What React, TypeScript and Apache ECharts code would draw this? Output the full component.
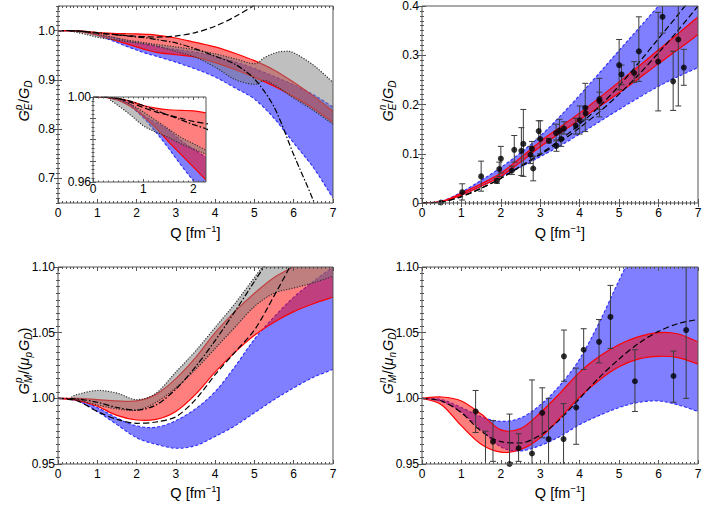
import React, { useEffect, useRef } from "react";
import * as echarts from "echarts";

const FONT = '"Liberation Sans", Arial, Helvetica, sans-serif';

// ---------------- Panel 1 : G_E^p / G_D (and inset) ----------------
const q1 = [0, 0.25, 0.5, 0.75, 1, 1.25, 1.5, 1.75, 2, 2.25, 2.5, 3, 3.5, 4, 4.5, 5, 5.5, 6, 6.5, 7];
const p1BlueLo = [1, 0.9998, 0.9985, 0.9955, 0.9903, 0.9835, 0.976, 0.968, 0.9605, 0.9535, 0.948, 0.936, 0.922, 0.906, 0.884, 0.861, 0.822, 0.772, 0.722, 0.66];
const p1BlueHi = [1, 0.9999, 0.999, 0.9965, 0.9915, 0.988, 0.9845, 0.9795, 0.9755, 0.9717, 0.968, 0.962, 0.956, 0.948, 0.937, 0.923, 0.907, 0.89, 0.87, 0.845];
const p1RedLo = [1, 0.9998, 0.9985, 0.9955, 0.991, 0.9855, 0.979, 0.973, 0.967, 0.961, 0.956, 0.951, 0.946, 0.935, 0.921, 0.905, 0.887, 0.866, 0.842, 0.814];
const p1RedHi = [1, 0.99995, 0.9993, 0.998, 0.996, 0.9948, 0.994, 0.9937, 0.9935, 0.9925, 0.991, 0.985, 0.976, 0.967, 0.954, 0.939, 0.92, 0.895, 0.867, 0.836];
const q1g = [0.35, 0.5, 0.75, 1, 1.25, 1.5, 1.75, 2, 2.25, 2.5, 3, 3.5, 4, 4.5, 5, 5.25, 5.5, 5.75, 6, 6.5, 7];
const p1GrayLo = [0.9985, 0.996, 0.9915, 0.9865, 0.9835, 0.981, 0.978, 0.9755, 0.973, 0.969, 0.958, 0.946, 0.926, 0.901, 0.891, 0.899, 0.89, 0.877, 0.863, 0.838, 0.81];
const p1GrayHi = [0.9995, 0.999, 0.9965, 0.993, 0.989, 0.985, 0.981, 0.978, 0.975, 0.972, 0.967, 0.961, 0.953, 0.943, 0.933, 0.945, 0.954, 0.958, 0.955, 0.93, 0.895];
const p1Dash = [1, 0.9999, 0.9993, 0.9975, 0.995, 0.993, 0.9915, 0.99, 0.9885, 0.9875, 0.987, 0.989, 0.996, 1.009, 1.028, 1.052, 1.085, 1.12, 1.16, 1.2];
const p1DashDot = [1, 0.9999, 0.9993, 0.998, 0.996, 0.9937, 0.9915, 0.9893, 0.987, 0.985, 0.982, 0.975, 0.963, 0.948, 0.932, 0.902, 0.845, 0.748, 0.655, 0.55];

// ---------------- Panel 2 : G_E^n / G_D ----------------
const q2 = [0, 0.5, 1, 1.5, 2, 2.5, 3, 3.5, 4, 4.5, 5, 5.5, 6, 6.5, 7];
const p2BlueLo = [0, 0.003, 0.016, 0.034, 0.053, 0.073, 0.094, 0.116, 0.14, 0.165, 0.19, 0.214, 0.237, 0.257, 0.275];
const p2BlueHi = [0, 0.004, 0.022, 0.046, 0.072, 0.102, 0.136, 0.176, 0.219, 0.264, 0.31, 0.355, 0.4, 0.445, 0.49];
const p2RedLo = [0, 0.003, 0.016, 0.034, 0.054, 0.083, 0.114, 0.142, 0.169, 0.196, 0.224, 0.253, 0.283, 0.312, 0.342];
const p2RedHi = [0, 0.0035, 0.02, 0.039, 0.061, 0.092, 0.125, 0.154, 0.183, 0.214, 0.246, 0.278, 0.311, 0.344, 0.378];
const p2DashA = [0, 0.002, 0.013, 0.03, 0.05, 0.075, 0.1, 0.128, 0.16, 0.196, 0.238, 0.285, 0.334, 0.383, 0.433];
const p2DashB = [0, 0.002, 0.013, 0.03, 0.05, 0.074, 0.098, 0.124, 0.153, 0.185, 0.221, 0.261, 0.305, 0.351, 0.4];
const p2PtQ = [0.48, 1.02, 1.5, 1.9, 1.96, 2.0, 2.28, 2.34, 2.52, 2.57, 2.75, 2.79, 2.82, 2.96, 3.0, 3.22, 3.4, 3.41, 3.49, 3.53, 3.6, 3.9, 4.0, 4.14, 4.15, 4.5, 4.5, 5.0, 5.06, 5.38, 5.5, 5.99, 6.1, 6.37, 6.5, 6.64];
const p2PtV = [0.001, 0.022, 0.054, 0.045, 0.069, 0.09, 0.066, 0.108, 0.106, 0.12, 0.098, 0.11, 0.07, 0.146, 0.13, 0.126, 0.142, 0.116, 0.147, 0.13, 0.151, 0.157, 0.168, 0.193, 0.182, 0.211, 0.207, 0.28, 0.261, 0.264, 0.308, 0.287, 0.378, 0.247, 0.332, 0.275];
const p2PtLo = [0.001, 0.006, 0.024, 0.04, 0.054, 0.061, 0.058, 0.083, 0.056, 0.054, 0.08, 0.095, 0.045, 0.13, 0.1, 0.122, 0.128, 0.105, 0.128, 0.115, 0.14, 0.14, 0.14, 0.145, 0.17, 0.175, 0.19, 0.23, 0.24, 0.245, 0.247, 0.187, 0.345, 0.188, 0.197, 0.239];
const p2PtHi = [0.001, 0.039, 0.085, 0.05, 0.083, 0.115, 0.075, 0.137, 0.153, 0.19, 0.115, 0.125, 0.095, 0.167, 0.167, 0.131, 0.16, 0.126, 0.17, 0.142, 0.165, 0.172, 0.197, 0.243, 0.195, 0.253, 0.225, 0.332, 0.28, 0.287, 0.378, 0.387, 0.41, 0.308, 0.41, 0.312];

// ---------------- Panel 3 : G_M^p / (mu_p G_D) ----------------
const q3 = [0, 0.5, 1, 1.5, 2, 2.5, 3, 3.5, 4, 4.5, 5, 5.5, 6, 6.5, 7];
const p3BlueLo = [1, 0.998, 0.99, 0.98, 0.97, 0.965, 0.962, 0.964, 0.971, 0.979, 0.989, 0.999, 1.008, 1.016, 1.022];
const p3BlueHi = [1, 0.999, 0.993, 0.985, 0.979, 0.978, 0.983, 0.992, 1.005, 1.024, 1.045, 1.062, 1.077, 1.089, 1.1];
const p3RedLo = [1, 0.9985, 0.994, 0.987, 0.9835, 0.984, 0.99, 1.003, 1.02, 1.035, 1.048, 1.058, 1.066, 1.072, 1.077];
const p3RedHi = [1, 1.0, 0.999, 0.998, 0.998, 1.003, 1.015, 1.031, 1.05, 1.066, 1.08, 1.092, 1.1, 1.106, 1.11];
const q3g = [0.35, 0.5, 1, 1.5, 2, 2.5, 3, 3.5, 4, 4.5, 5, 5.5, 6, 6.5, 7];
const p3GrayLo = [1.0, 0.999, 0.995, 0.992, 0.991, 0.997, 1.008, 1.022, 1.038, 1.054, 1.07, 1.08, 1.084, 1.088, 1.093];
const p3GrayHi = [1.001, 1.003, 1.006, 1.004, 0.999, 1.004, 1.02, 1.036, 1.054, 1.072, 1.092, 1.112, 1.13, 1.15, 1.17];
const p3Dash = [1, 0.998, 0.99, 0.984, 0.981, 0.982, 0.986, 0.999, 1.018, 1.035, 1.052, 1.078, 1.106, 1.14, 1.17];
const p3DashDot = [1, 0.9995, 0.997, 0.993, 0.991, 0.995, 1.007, 1.024, 1.044, 1.066, 1.089, 1.112, 1.135, 1.16, 1.18];

// ---------------- Panel 4 : G_M^n / (mu_n G_D) ----------------
const q4 = [0, 0.5, 1, 1.5, 2, 2.5, 3, 3.5, 4, 4.5, 5, 5.5, 6, 6.5, 7];
const p4BlueLo = [1, 0.9975, 0.9895, 0.976, 0.963, 0.96, 0.964, 0.971, 0.98, 0.987, 0.993, 0.997, 0.998, 0.995, 0.99];
const p4BlueHi = [1, 0.999, 0.993, 0.986, 0.9825, 0.985, 0.995, 1.01, 1.03, 1.058, 1.09, 1.12, 1.15, 1.175, 1.2];
const p4RedLo = [1, 0.995, 0.979, 0.965, 0.959, 0.961, 0.97, 0.985, 1.001, 1.014, 1.024, 1.03, 1.032, 1.031, 1.026];
const p4RedHi = [1, 1.001, 0.998, 0.988, 0.976, 0.977, 0.989, 1.004, 1.02, 1.032, 1.041, 1.047, 1.05, 1.049, 1.043];
const p4Dash = [1, 0.998, 0.989, 0.975, 0.967, 0.966, 0.972, 0.984, 1.0, 1.016, 1.03, 1.042, 1.051, 1.057, 1.06];
const p4PtQ = [1.36, 1.61, 1.8, 2.22, 2.45, 2.79, 3.05, 3.21, 3.59, 3.6, 3.91, 4.1, 4.49, 4.78, 5.4, 6.38, 6.7];
const p4PtV = [0.99, 0.945, 0.967, 0.95, 0.962, 0.958, 0.989, 0.969, 0.969, 1.032, 0.993, 1.037, 1.043, 1.062, 1.013, 1.017, 1.052];
const p4PtLo = [0.974, 0.92, 0.952, 0.912, 0.952, 0.9, 0.97, 0.93, 0.94, 1.013, 0.965, 1.022, 1.027, 1.038, 0.99, 0.997, 1.0];
const p4PtHi = [1.006, 0.975, 0.983, 0.988, 0.973, 1.014, 1.008, 1.0, 0.996, 1.052, 1.023, 1.053, 1.06, 1.086, 1.037, 1.036, 1.1];

// ---------------- Tick values ----------------
const qTicks = [0, 1, 2, 3, 4, 5, 6, 7];
const p1YTicks = [0.7, 0.8, 0.9, 1.0];
const p2YTicks = [0, 0.1, 0.2, 0.3, 0.4];
const p34YTicks = [0.95, 1.0, 1.05, 1.1];
const insetXTicks = [0, 1, 2];
const insetYTicks = [0.96, 0.97, 0.98, 0.99, 1.0];
const insetYLabels = [0.96, 1.0];

function steps(a: number, b: number, s: number) {
  const out: number[] = [];
  const n = Math.round((b - a) / s);
  for (let i = 0; i <= n; i++) out.push(Math.round((a + i * s) * 1e6) / 1e6);
  return out;
}

const GRIDS = [
  { left: 58, top: 6, width: 275, height: 197 },
  { left: 422, top: 6, width: 276, height: 197 },
  { left: 58, top: 267, width: 275, height: 197 },
  { left: 422, top: 267, width: 276, height: 197 },
  { left: 93, top: 97, width: 113, height: 85 },
];

const PANELS: any[] = [
  { x: [0, 7], y: [0.65, 1.05], xMaj: qTicks, xLab: qTicks, xMin: steps(0, 7, 0.1), yMaj: p1YTicks, yLab: p1YTicks, yMin: steps(0.65, 1.05, 0.01), yf: (v: number) => v.toFixed(1), xm: 4, ym: 3, tl: 4 },
  { x: [0, 7], y: [0, 0.4], xMaj: qTicks, xLab: qTicks, xMin: steps(0, 7, 0.1), yMaj: p2YTicks, yLab: p2YTicks, yMin: steps(0, 0.4, 0.01), yf: (v: number) => (v === 0 ? "0" : v.toFixed(1)), xm: 4, ym: 3, tl: 4 },
  { x: [0, 7], y: [0.95, 1.1], xMaj: qTicks, xLab: qTicks, xMin: steps(0, 7, 0.1), yMaj: p34YTicks, yLab: p34YTicks, yMin: steps(0.95, 1.1, 0.005), yf: (v: number) => v.toFixed(2), xm: 4, ym: 3, tl: 4 },
  { x: [0, 7], y: [0.95, 1.1], xMaj: qTicks, xLab: qTicks, xMin: steps(0, 7, 0.1), yMaj: p34YTicks, yLab: p34YTicks, yMin: steps(0.95, 1.1, 0.005), yf: (v: number) => v.toFixed(2), xm: 4, ym: 3, tl: 4 },
  { x: [0, 2.25], y: [0.96, 1.0], xMaj: insetXTicks, xLab: insetXTicks, xMin: steps(0, 2.2, 0.1), yMaj: insetYTicks, yLab: insetYLabels, yMin: steps(0.96, 1.0, 0.002), yf: (v: number) => v.toFixed(2), xm: 1, ym: 2, tl: 3 },
];

function ax(gridIndex: number, range: number[], position: string, ticks: number[], len: number, labels: number[] | null, fmt?: any, margin?: number) {
  return {
    type: "value",
    gridIndex,
    min: range[0],
    max: range[1],
    position,
    z: 6,
    silent: true,
    axisLine: { show: false },
    splitLine: { show: false },
    minorTick: { show: false },
    axisTick: { show: true, inside: true, length: len, customValues: ticks, lineStyle: { color: "#555", width: 1 } },
    axisLabel: labels
      ? { show: true, customValues: labels, formatter: fmt || ((v: number) => String(v)), fontSize: 12, fontFamily: FONT, color: "#000", margin }
      : { show: false },
  };
}

const BLUE_FILL = "rgba(0,0,255,0.5)";
const RED_FILL = "rgba(255,0,0,0.5)";
const GRAY_FILL = "rgba(128,128,128,0.5)";
const blueEdge = { color: "#2a2aff", width: 1.1, dash: [3, 2], cap: "butt" };
const redEdge = { color: "#ff0000", width: 1.2, dash: null, cap: "butt" };
const grayEdge = { color: "#333", width: 1.3, dash: [0.1, 2.6], cap: "round" };
const dashBlack = { color: "#000", width: 1.2, type: [6, 3] };
const dashDotBlack = { color: "#000", width: 1.2, type: [6, 2, 1.5, 2] };

// Catmull-Rom spline through pixel points, as SVG path commands
function splinePath(pts: number[][], move: boolean) {
  let d = (move ? "M" : "L") + pts[0][0] + "," + pts[0][1];
  for (let i = 0; i < pts.length - 1; i++) {
    const p0 = pts[i - 1] || pts[i];
    const p1 = pts[i];
    const p2 = pts[i + 1];
    const p3 = pts[i + 2] || p2;
    const c1x = p1[0] + (p2[0] - p0[0]) / 6;
    const c1y = p1[1] + (p2[1] - p0[1]) / 6;
    const c2x = p2[0] - (p3[0] - p1[0]) / 6;
    const c2y = p2[1] - (p3[1] - p1[1]) / 6;
    d += "C" + c1x + "," + c1y + "," + c2x + "," + c2y + "," + p2[0] + "," + p2[1];
  }
  return d;
}

function band(p: number, xs: number[], lo: number[], hi: number[], fill: string, edge: any) {
  return {
    type: "custom",
    xAxisIndex: 2 * p,
    yAxisIndex: 2 * p,
    clip: true,
    silent: true,
    z: 2,
    data: xs.map((x, i) => [x, lo[i], hi[i]]),
    encode: { x: 0, y: [1, 2] },
    renderItem: (params: any, api: any) => {
      if (params.dataIndex !== 0) return null;
      const up = xs.map((x, i) => api.coord([x, hi[i]]));
      const dn = xs.map((x, i) => api.coord([x, lo[i]]));
      const upD = splinePath(up, true);
      const dnD = splinePath(dn, true);
      const areaD = upD + splinePath(dn.slice().reverse(), false) + "Z";
      const ls: any = { fill: "none", stroke: edge.color, lineWidth: edge.width, lineCap: edge.cap };
      if (edge.dash) ls.lineDash = edge.dash;
      return {
        type: "group",
        children: [
          { type: "path", shape: { pathData: areaD }, style: { fill, stroke: "none" } },
          { type: "path", shape: { pathData: upD }, style: { ...ls } },
          { type: "path", shape: { pathData: dnD }, style: { ...ls } },
        ],
      };
    },
  };
}

function curve(p: number, xs: number[], ys: number[], style: any) {
  return { type: "line", xAxisIndex: 2 * p, yAxisIndex: 2 * p, data: xs.map((x, i) => [x, ys[i]]), symbol: "none", smooth: 0.3, lineStyle: style, silent: true, clip: true, z: 3 };
}

function points(p: number, qs: number[], vs: number[], los: number[], his: number[]) {
  return [
    {
      type: "custom",
      xAxisIndex: 2 * p,
      yAxisIndex: 2 * p,
      clip: true,
      silent: true,
      z: 4,
      data: qs.map((q, i) => [q, los[i], his[i]]),
      encode: { x: 0, y: [1, 2] },
      renderItem: (_params: any, api: any) => {
        const x = api.value(0);
        const lo = api.value(1);
        const hi = api.value(2);
        if (hi - lo < 1e-6) return null;
        const a = api.coord([x, lo]);
        const b = api.coord([x, hi]);
        const w = 3;
        const st = { stroke: "#3a3a3a", lineWidth: 1 };
        return {
          type: "group",
          children: [
            { type: "line", shape: { x1: a[0], y1: a[1], x2: b[0], y2: b[1] }, style: st },
            { type: "line", shape: { x1: a[0] - w, y1: a[1], x2: a[0] + w, y2: a[1] }, style: st },
            { type: "line", shape: { x1: b[0] - w, y1: b[1], x2: b[0] + w, y2: b[1] }, style: st },
          ],
        };
      },
    },
    {
      type: "scatter",
      xAxisIndex: 2 * p,
      yAxisIndex: 2 * p,
      data: qs.map((q, i) => [q, vs[i]]),
      symbol: "circle",
      symbolSize: 6,
      itemStyle: { color: "#000" },
      silent: true,
      clip: true,
      z: 5,
    },
  ];
}

type Piece = { t: string; s?: number; it?: boolean; dy?: number; stack?: boolean; gap?: number };

function titleGroup(pieces: Piece[], cx: number, cy: number, vertical: boolean) {
  const ctx = document.createElement("canvas").getContext("2d") as CanvasRenderingContext2D;
  let x = 0;
  let pend = 0;
  const items: any[] = [];
  for (const p of pieces) {
    const size = p.s ?? 14.5;
    ctx.font = `${p.it ? "italic " : ""}${size}px ${FONT}`;
    const w = ctx.measureText(p.t).width;
    items.push({ x, p, size });
    if (p.stack) {
      pend = w;
    } else {
      x += Math.max(w, pend) + (p.gap ?? 0);
      pend = 0;
    }
  }
  const total = x;
  return {
    type: "group",
    x: cx,
    y: cy,
    rotation: vertical ? Math.PI / 2 : 0,
    silent: true,
    z: 10,
    children: items.map(({ x: px, p, size }) => ({
      type: "text",
      x: px - total / 2,
      y: p.dy ?? 0,
      style: {
        text: p.t,
        fontSize: size,
        fontStyle: p.it ? "italic" : "normal",
        fontFamily: FONT,
        fill: "#000",
        align: "left",
        verticalAlign: "middle",
        textAlign: "left",
        textVerticalAlign: "middle",
      },
    })),
  };
}

const SUB = 10;
const qTitle: Piece[] = [{ t: "Q [fm" }, { t: "\u22121", s: 9.5, dy: -5 }, { t: "]" }];
const t1: Piece[] = [{ t: "G", it: true }, { t: "p", s: SUB, it: true, dy: -5.5, stack: true }, { t: "E", s: SUB, it: true, dy: 4.5, gap: 0.5 }, { t: "/" }, { t: "G", it: true }, { t: "D", s: SUB, it: true, dy: 4.5 }];
const t2: Piece[] = [{ t: "G", it: true }, { t: "n", s: SUB, it: true, dy: -5.5, stack: true }, { t: "E", s: SUB, it: true, dy: 4.5, gap: 0.5 }, { t: "/" }, { t: "G", it: true }, { t: "D", s: SUB, it: true, dy: 4.5 }];
const t3: Piece[] = [{ t: "G", it: true }, { t: "p", s: SUB, it: true, dy: -5.5, stack: true }, { t: "M", s: SUB, it: true, dy: 4.5, gap: 0.5 }, { t: "/(" }, { t: "\u03bc", it: true }, { t: "p", s: SUB, it: true, dy: 4.5, gap: 1 }, { t: "G", it: true }, { t: "D", s: SUB, it: true, dy: 4.5 }, { t: ")" }];
const t4: Piece[] = [{ t: "G", it: true }, { t: "n", s: SUB, it: true, dy: -5.5, stack: true }, { t: "M", s: SUB, it: true, dy: 4.5, gap: 0.5 }, { t: "/(" }, { t: "\u03bc", it: true }, { t: "n", s: SUB, it: true, dy: 4.5, gap: 1 }, { t: "G", it: true }, { t: "D", s: SUB, it: true, dy: 4.5 }, { t: ")" }];

function buildOption() {
  const grid: any[] = [];
  GRIDS.forEach((g) => grid.push({ ...g, show: true, borderColor: "#555", borderWidth: 1, backgroundColor: "transparent", z: 6 }));
  GRIDS.forEach((g) => grid.push({ ...g, show: false }));

  const xAxis: any[] = [];
  const yAxis: any[] = [];
  for (let g = 0; g < 10; g++) {
    const p = PANELS[g % 5];
    const main = g < 5;
    const len = main ? p.tl : p.tl / 2;
    xAxis.push(ax(g, p.x, "bottom", main ? p.xMaj : p.xMin, len, main ? p.xLab : null, (v: number) => String(v), p.xm));
    xAxis.push(ax(g, p.x, "top", main ? p.xMaj : p.xMin, len, null));
    yAxis.push(ax(g, p.y, "left", main ? p.yMaj : p.yMin, len, main ? p.yLab : null, p.yf, p.ym));
    yAxis.push(ax(g, p.y, "right", main ? p.yMaj : p.yMin, len, null));
  }

  const series: any[] = [];
  // Panel 1 and its inset share the same curves
  for (const g of [0, 4]) {
    series.push(band(g, q1, p1BlueLo, p1BlueHi, BLUE_FILL, blueEdge));
    series.push(band(g, q1, p1RedLo, p1RedHi, RED_FILL, redEdge));
    series.push(band(g, q1g, p1GrayLo, p1GrayHi, GRAY_FILL, grayEdge));
    series.push(curve(g, q1, p1Dash, dashBlack));
    series.push(curve(g, q1, p1DashDot, dashDotBlack));
  }
  // Panel 2
  series.push(band(1, q2, p2BlueLo, p2BlueHi, BLUE_FILL, blueEdge));
  series.push(band(1, q2, p2RedLo, p2RedHi, RED_FILL, redEdge));
  series.push(curve(1, q2, p2DashA, dashBlack));
  series.push(curve(1, q2, p2DashB, dashBlack));
  series.push(...points(1, p2PtQ, p2PtV, p2PtLo, p2PtHi));
  // Panel 3
  series.push(band(2, q3, p3BlueLo, p3BlueHi, BLUE_FILL, blueEdge));
  series.push(band(2, q3, p3RedLo, p3RedHi, RED_FILL, redEdge));
  series.push(band(2, q3g, p3GrayLo, p3GrayHi, GRAY_FILL, grayEdge));
  series.push(curve(2, q3, p3Dash, dashBlack));
  series.push(curve(2, q3, p3DashDot, dashDotBlack));
  // Panel 4
  series.push(band(3, q4, p4BlueLo, p4BlueHi, BLUE_FILL, blueEdge));
  series.push(band(3, q4, p4RedLo, p4RedHi, RED_FILL, redEdge));
  series.push(curve(3, q4, p4Dash, dashBlack));
  series.push(...points(3, p4PtQ, p4PtV, p4PtLo, p4PtHi));

  const graphic: any[] = [
    titleGroup(qTitle, 195.5, 233, false),
    titleGroup(qTitle, 560, 233, false),
    titleGroup(qTitle, 195.5, 493, false),
    titleGroup(qTitle, 560, 493, false),
    titleGroup(t1, 24, 101, true),
    titleGroup(t2, 388, 101, true),
    titleGroup(t3, 24, 361, true),
    titleGroup(t4, 388, 361, true),
  ];

  return { animation: false, backgroundColor: "#fff", grid, xAxis, yAxis, series, graphic };
}

export default function App() {
  const ref = useRef<HTMLDivElement>(null);
  useEffect(() => {
    document.body.style.margin = "0";
    const chart = echarts.init(ref.current as HTMLDivElement, null, { renderer: "svg" });
    chart.setOption(buildOption() as any);
    return () => chart.dispose();
  }, []);
  return <div ref={ref} style={{ width: 706, height: 505, background: "#fff" }} />;
}
